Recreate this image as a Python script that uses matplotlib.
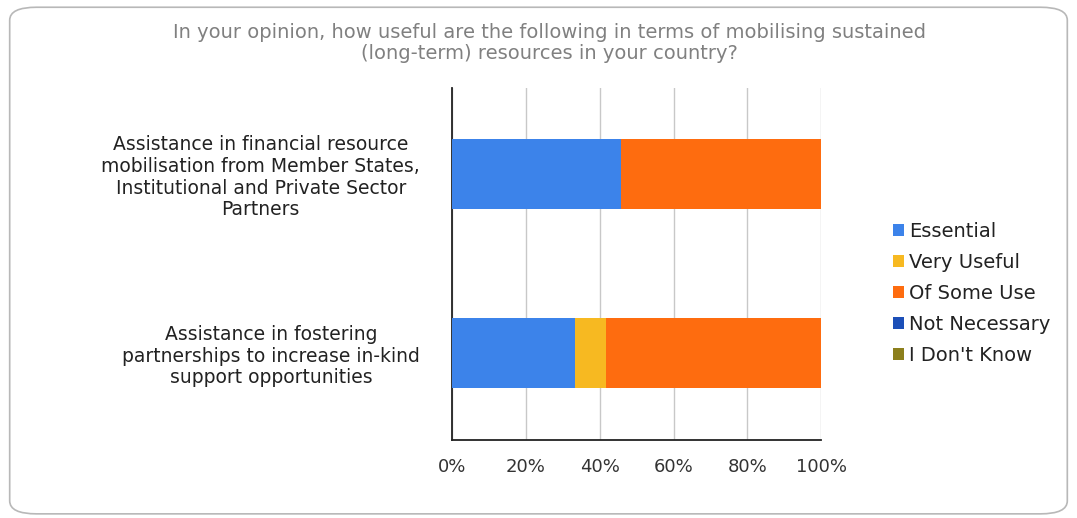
import matplotlib
matplotlib.use("Agg")
import matplotlib.pyplot as plt
from matplotlib.patches import FancyBboxPatch, Patch
from matplotlib.ticker import FuncFormatter

categories = [
    "Assistance in financial resource\nmobilisation from Member States,\nInstitutional and Private Sector\nPartners",
    "Assistance in fostering\npartnerships to increase in-kind\nsupport opportunities",
]
series_names = ["Essential", "Very Useful", "Of Some Use", "Not Necessary", "I Don't Know"]
essential = [45.8, 33.3]
very_useful = [0.0, 8.3]
of_some_use = [54.2, 58.4]
not_necessary = [0.0, 0.0]
dont_know = [0.0, 0.0]
x_ticks = [0, 20, 40, 60, 80, 100]
title = ("In your opinion, how useful are the following in terms of mobilising sustained\n"
         "(long-term) resources in your country?")

colors = ["#3c83ea", "#f7b921", "#fe6c0f", "#1c4fb8", "#8c7f1c"]
series = [essential, very_useful, of_some_use, not_necessary, dont_know]

plt.rcParams['font.family'] = ['DejaVu Sans']

fig = plt.figure(figsize=(10.77, 5.18), dpi=100)
fig.patch.set_facecolor("white")

# rounded outer frame (outline only, drawn behind the axes)
frame = FancyBboxPatch((0.009, 0.008), 0.982, 0.978,
                       boxstyle="round,pad=0,rounding_size=0.025",
                       transform=fig.transFigure, facecolor="none",
                       edgecolor="#b8b8b8", linewidth=1.2, zorder=-1)
fig.patches.append(frame)

ax = fig.add_axes([0.4197, 0.1506, 0.3429, 0.6794])
ax.set_facecolor("none")

ypos = list(range(len(categories)))
left = [0.0] * len(categories)
for name, vals, col in zip(series_names, series, colors):
    ax.barh(ypos, vals, left=left, height=0.39, color=col, label=name, zorder=3)
    left = [l + v for l, v in zip(left, vals)]

ax.set_xlim(0, 100)
ax.set_ylim(1.486, -0.48)
ax.set_xticks(x_ticks)
ax.xaxis.set_major_formatter(FuncFormatter(lambda v, p: f"{v:.0f}%"))
ax.set_yticks(ypos)
ax.set_yticklabels(categories, multialignment="center", fontsize=13.5, color="#222222",
                   linespacing=1.17)
ax.tick_params(axis="y", length=0, pad=23)
ax.tick_params(axis="x", length=0, pad=13, labelsize=13, labelcolor="#333333")
ax.grid(axis="x", color="#c8c8c8", linewidth=1.0, zorder=1)
for s in ["top", "right"]:
    ax.spines[s].set_visible(False)
ax.spines["left"].set_color("#222222")
ax.spines["bottom"].set_color("#222222")
ax.spines["left"].set_linewidth(1.3)
ax.spines["bottom"].set_linewidth(1.3)

handles = [Patch(facecolor=c, label=n) for n, c in zip(series_names, colors)]
fig.legend(handles=handles, loc="center left", bbox_to_anchor=(0.813, 0.434),
           frameon=False, fontsize=14, handlelength=0.55, handleheight=0.55,
           handletextpad=0.25, labelspacing=0.62, labelcolor="#222222")

fig.text(0.51, 0.917, title, ha="center", va="center", fontsize=14,
         color="#808080", linespacing=1.15)

fig.savefig("out.png", dpi=100, facecolor="white")
